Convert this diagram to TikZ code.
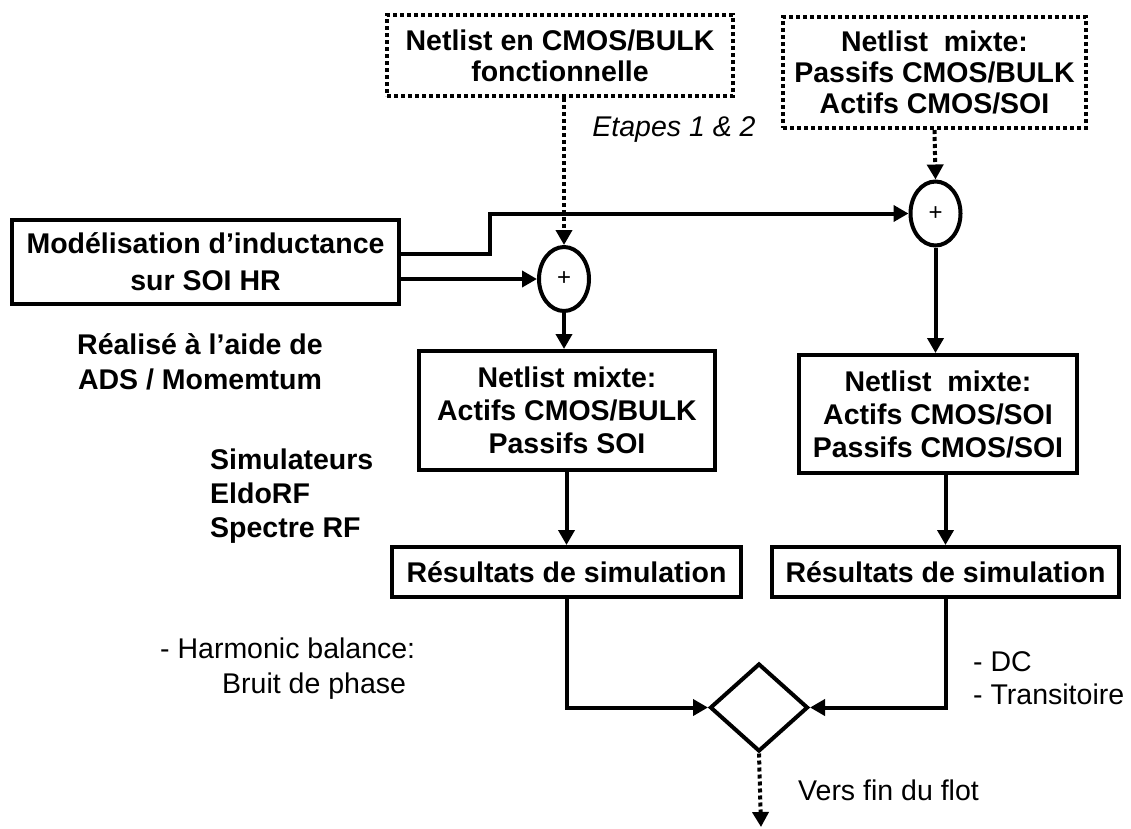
\documentclass[tikz,border=0pt]{standalone}
\usepackage{fontspec}
\setmainfont{Liberation Sans}
\usetikzlibrary{arrows.meta,shapes.geometric}
\begin{document}
\begin{tikzpicture}[x=1pt,y=-1pt,
  box/.style={draw,line width=4pt,inner sep=0pt,align=center,font=\bfseries\fontsize{28.5}{33}\selectfont},
  dbox/.style={box,dash pattern=on 4pt off 3pt},
  sumnode/.style={draw,ellipse,line width=4pt,inner sep=0pt,minimum width=50pt,minimum height=64pt,font=\fontsize{24}{24}\selectfont},
  arr/.style={line width=4pt,-{Triangle[length=15pt,width=16pt]}},
  darr/.style={arr,dash pattern=on 4pt off 3pt},
  plain/.style={inner sep=0pt,font=\fontsize{28.5}{34}\selectfont},
  bplain/.style={inner sep=0pt,font=\bfseries\fontsize{28.5}{35}\selectfont}
]
\useasboundingbox (0,0) rectangle (1131,828);

% boxes
\node[dbox,minimum width=346pt,minimum height=81pt,font=\bfseries\fontsize{28.5}{31}\selectfont] (top1) at (560,55.5) {Netlist en CMOS/BULK\\fonctionnelle};
\node[dbox,minimum width=303pt,minimum height=111pt,font=\bfseries\fontsize{28.5}{31}\selectfont] (top2) at (934.5,72.5) {Netlist\ \ mixte:\\Passifs CMOS/BULK\\Actifs CMOS/SOI};
\node[box,minimum width=387pt,minimum height=84pt,font=\bfseries\fontsize{28.5}{37}\selectfont] (model) at (205.5,262) {Modélisation d’inductance\\sur SOI HR};
\node[sumnode] (sum1) at (564,279) {+};
\node[sumnode] (sum2) at (935.5,213.5) {+};
\node[box,minimum width=296pt,minimum height=119pt] (mix1) at (567,410.5) {Netlist mixte:\\Actifs CMOS/BULK\\Passifs SOI};
\node[box,minimum width=278pt,minimum height=118pt] (mix2) at (938,414) {Netlist\ \ mixte:\\Actifs CMOS/SOI\\Passifs CMOS/SOI};
\node[box,minimum width=349pt,minimum height=50pt] (res1) at (566.5,572) {Résultats de simulation};
\node[box,minimum width=347pt,minimum height=50pt] (res2) at (945.5,572) {Résultats de simulation};
\node[draw,diamond,line width=4pt,inner sep=0pt,minimum width=98pt,minimum height=88pt] (dia) at (759,707.5) {};
\coordinate (fin) at (761,827);

% free texts
\node[plain,font=\itshape\fontsize{28.5}{34}\selectfont] (etapes) at (674,130) {Etapes 1 \& 2};
\node[bplain,align=center] (ads) at (200,362) {Réalisé à l’aide de\\ADS / Momemtum};
\node[bplain,align=left,anchor=west,font=\bfseries\fontsize{28.5}{34}\selectfont] (simu) at (210,496) {Simulateurs\\EldoRF\\Spectre RF};
\node[plain,align=left,anchor=west,font=\fontsize{28.5}{35}\selectfont] (hb) at (160,669) {- Harmonic balance:\\\hspace*{62pt}Bruit de phase};
\node[plain,align=left,anchor=west,font=\fontsize{28.5}{33}\selectfont] (dc) at (973,678) {- DC\\- Transitoire};
\node[plain,anchor=west] (vers) at (798,790) {Vers fin du flot};

% connectors
\draw[darr] (top1.south -| sum1.north) -- (sum1.north);
\draw[darr] (top2.south) -- (sum2.north);
\draw[arr] (model.east |- sum1.west) -- (sum1.west);
\draw[arr] ([yshift=8pt]model.east) -- ++(89,0) |- (sum2.west);
\draw[arr] (sum1.south) -- (sum1.south |- mix1.north);
\draw[arr] (sum2.south) -- (sum2.south |- mix2.north);
\draw[arr] (mix1.south -| res1.north) -- (res1.north);
\draw[arr] (res2.north |- mix2.south) -- (res2.north);
\draw[arr] (res1.south) |- (dia.west);
\draw[arr] (res2.south) |- (dia.east);
\draw[darr] (dia.south) -- (fin);
\end{tikzpicture}
\end{document}
